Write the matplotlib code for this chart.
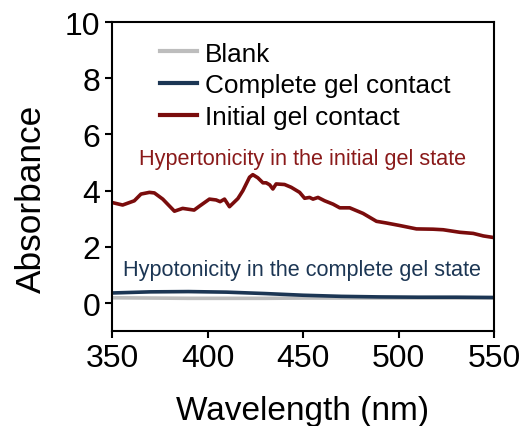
import matplotlib
matplotlib.use("Agg")
import matplotlib.pyplot as plt
from matplotlib.lines import Line2D

plt.rcParams['font.family'] = ['Liberation Sans', 'DejaVu Sans']

# Initial gel contact spectrum
wl_initial = [350, 355.6, 361.7, 365.2, 369.6, 372.2, 376.6, 382.7, 387, 393, 395.8,
              401, 404.5, 406.6, 408.9, 411.5, 415.9, 418.5, 422, 423.7, 426.3, 429,
              430.7, 432.5, 434.2, 435.9, 440.3, 443.8, 448.2, 450.8, 453.4, 455.2,
              457.8, 461.3, 465.7, 469.2, 474.4, 481.4, 488.4, 493.6, 500.6, 509.3,
              518, 523.3, 532, 539, 544.3, 550]
abs_initial = [3.58, 3.49, 3.64, 3.88, 3.94, 3.92, 3.70, 3.27, 3.37, 3.31, 3.45,
               3.70, 3.67, 3.61, 3.70, 3.43, 3.72, 4.00, 4.48, 4.57, 4.46, 4.28,
               4.28, 4.21, 4.06, 4.24, 4.22, 4.12, 3.94, 3.73, 3.76, 3.70,
               3.76, 3.64, 3.52, 3.39, 3.39, 3.19, 2.91, 2.85, 2.76, 2.64,
               2.63, 2.61, 2.52, 2.48, 2.39, 2.33]

# Complete gel contact spectrum
wl_complete = [350, 370, 390, 410, 430, 450, 470, 490, 510, 530, 550]
abs_complete = [0.36, 0.40, 0.41, 0.39, 0.34, 0.28, 0.24, 0.22, 0.21, 0.21, 0.20]

# Blank
wl_blank = [350, 370, 390, 410, 430, 450, 470, 490, 510, 530, 550]
abs_blank = [0.19, 0.18, 0.17, 0.17, 0.17, 0.18, 0.18, 0.18, 0.18, 0.18, 0.18]

series_labels = ["Blank", "Complete gel contact", "Initial gel contact"]
series_colors = ["#bdbdbd", "#1c3654", "#7a0c0c"]

x_ticks = [350, 400, 450, 500, 550]
y_ticks = [0, 2, 4, 6, 8, 10]

fig = plt.figure(figsize=(5.23, 4.27), dpi=100)
ax = fig.add_axes([0.214, 0.222, 0.731, 0.724])

ax.plot(wl_blank, abs_blank, color=series_colors[0], lw=2.6, solid_capstyle='butt')
ax.plot(wl_complete, abs_complete, color=series_colors[1], lw=2.6)
ax.plot(wl_initial, abs_initial, color=series_colors[2], lw=2.6)

ax.set_xlim(350, 550)
ax.set_ylim(-1, 10)
ax.set_xticks(x_ticks)
ax.set_yticks(y_ticks)
ax.tick_params(labelsize=23, width=1.5, length=5, direction='out')
for s in ax.spines.values():
    s.set_linewidth(1.5)
ax.set_xlabel("Wavelength (nm)", fontsize=24)
ax.set_ylabel("Absorbance", fontsize=25.4)
ax.xaxis.set_label_coords(0.498, -0.205)
ax.yaxis.set_label_coords(-0.167, 0.43)

handles = [Line2D([0], [0], color=c, lw=3) for c in series_colors]
ax.legend(handles, series_labels, loc='upper left', bbox_to_anchor=(0.127, 0.937),
          frameon=False, fontsize=18.8, handlelength=1.4, handletextpad=0.3,
          labelspacing=0.3, borderaxespad=0, borderpad=0)

ax.text(449.6, 5.14, "Hypertonicity in the initial gel state", color="#8a1a1a",
        fontsize=15.6, ha='center', va='center')
ax.text(449.6, 1.21, "Hypotonicity in the complete gel state", color="#1c3654",
        fontsize=15.6, ha='center', va='center')

fig.savefig("out.png", dpi=100)
